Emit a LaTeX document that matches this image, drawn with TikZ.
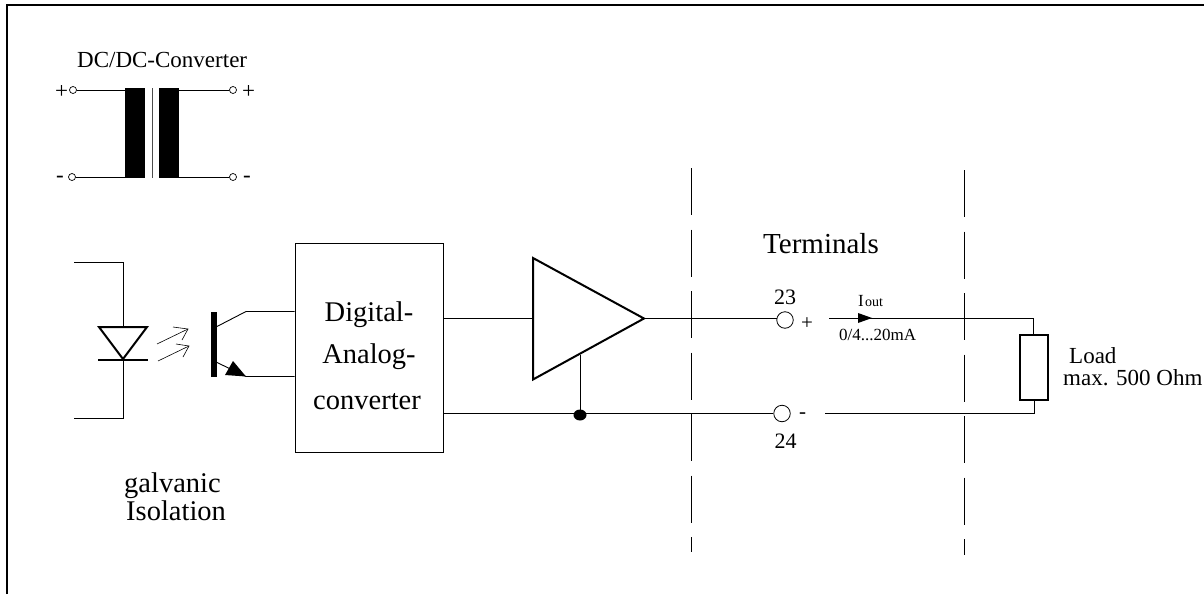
\documentclass[tikz,border=0pt]{standalone}
\usepackage{fontspec}
\setmainfont{Liberation Serif}
\begin{document}
\begin{tikzpicture}[x=1pt,y=-1pt,
  wire/.style={draw=black,line width=0.9pt},
  thin wire/.style={draw=black,line width=0.6pt},
  dashline/.style={draw=black,line width=0.8pt,dash pattern=on 47pt off 14.5pt},
  fs/.style={inner sep=0pt,font=\fontsize{#1pt}{#1pt}\selectfont},
  lbl/.style={fs=#1,anchor=base west},
  clbl/.style={fs=#1,anchor=base},
  term/.style={circle,draw=black,fill=white,line width=0.7pt,inner sep=0pt,minimum size=7pt},
  bigterm/.style={circle,draw=black,fill=white,line width=0.8pt,inner sep=0pt,minimum size=16.5pt},
  ]
\useasboundingbox (0,0) rectangle (1204,594);
\draw[line width=2pt] (7,594) -- (7,5) -- (1204,5);
% transformer
\node[lbl=23] at (77,67) {DC/DC-Converter};
\node[lbl=23] at (55,98) {+};
\node[lbl=23] at (56,182) {-};
\node[lbl=23] at (242,98) {+};
\node[lbl=23] at (243,182) {-};
\node[term] (a1) at (73,90) {};
\node[term] (a2) at (72,177) {};
\node[term] (a3) at (233,90) {};
\node[term] (a4) at (233,177) {};
\node[fill=black,inner sep=0pt,minimum width=20pt,minimum height=90pt] (core1) at (135,133) {};
\node[fill=black,inner sep=0pt,minimum width=20pt,minimum height=90pt] (core2) at (169,133) {};
\draw[line width=0.8pt,black!70] (152,88) -- (152,178);
\draw[wire] (a1) -- (a1-|core1.west); \draw[wire] (a2) -- (a2-|core1.west);
\draw[wire] (a3-|core2.east) -- (a3); \draw[wire] (a4-|core2.east) -- (a4);
% LED
\draw[wire] (74,262) -- (123,262) -- (123,327);
\draw[wire] (74,418) -- (123,418) -- (123,360);
\draw[line width=2pt,miter limit=10] (99,327) -- (147,327) -- (123,359) -- cycle;
\draw[line width=1.6pt] (98,360) -- (148,360);
% light arrows
\draw[thin wire] (157,344) -- (188,329);
\draw[thin wire] (173,327) -- (188,329) -- (182,340);
\draw[thin wire] (158,361) -- (189,346);
\draw[thin wire] (176,344) -- (189,346) -- (183,357);
% DAC
\node[draw,line width=0.9pt,inner sep=0pt,minimum width=148pt,minimum height=209pt] (dac) at (369,347.5) {};
\node[clbl=28.5] at (369,321) {Digital-};
\node[clbl=28.5] at (369,363) {Analog-};
\node[clbl=28.5] at (367,409) {converter};
% transistor
\node[fill=black,inner sep=0pt,minimum width=5.5pt,minimum height=65pt] (bar) at (214,344.5) {};
\coordinate (cUp) at (246,311.5);
\coordinate (cDn) at (246,376.5);
\draw[wire] (216,327) -- (cUp) -- (cUp-|dac.west);
\draw[wire] (216,362) -- (cDn) -- (cDn-|dac.west);
\fill (cDn) -- (225,375) -- (233,361) -- cycle;
% amp
\coordinate (ampA) at (533,258);
\coordinate (ampT) at (644,318.5);
\coordinate (ampB) at (533,379.5);
\draw[line width=2pt,miter limit=10] (ampA) -- (ampT) -- (ampB) -- cycle;
\node[bigterm] (t23) at (785,320) {};
\node[bigterm] (t24) at (782,413.5) {};
\draw[wire] (ampT-|dac.east) -- (ampT-|ampA);
\draw[wire] (ampT) -- (777,318.5);
\draw[wire] (dac.east|-t24) -- (t24);
\coordinate (jn) at (580,414);
\draw[wire] (580,355) -- (jn);
\fill (580,415) ellipse (6.5pt and 5.5pt);
\node[clbl=22] at (785,304) {23};
\node[clbl=22] at (785.5,448) {24};
\node[lbl=21] at (801,329) {+};
\node[lbl=21] at (799,418.5) {-};
\node[lbl=29] at (763,253) {Terminals};
% load
\node[draw,line width=2pt,fill=white,inner sep=0pt,minimum width=28pt,minimum height=65pt] (load) at (1034,367.5) {};
\coordinate (iStart) at (829,318);
\coordinate (vStart) at (825,413.5);
\draw[wire] (iStart) -- (1033,318) -- (1033,335);
\draw[wire] (vStart) -- (1034,413.5) -- (load.south);
\fill (858,313) -- (872,318) -- (858,323) -- cycle;
\node[lbl=17] at (858,306) {I};
\node[lbl=14] at (865,306) {out};
\node[lbl=17] at (839,340) {0/4...20mA};
\node[lbl=23] at (1069,363) {Load};
\node[lbl=23] at (1063,385) {max. 500 Ohm};
\node[lbl=28.5] at (124,492) {galvanic};
\node[lbl=28.5] at (126,520) {Isolation};
% dashed
\draw[dashline] (691.5,168) -- (691.5,552);
\draw[dashline] (964,170) -- (964,555);
\end{tikzpicture}
\end{document}
